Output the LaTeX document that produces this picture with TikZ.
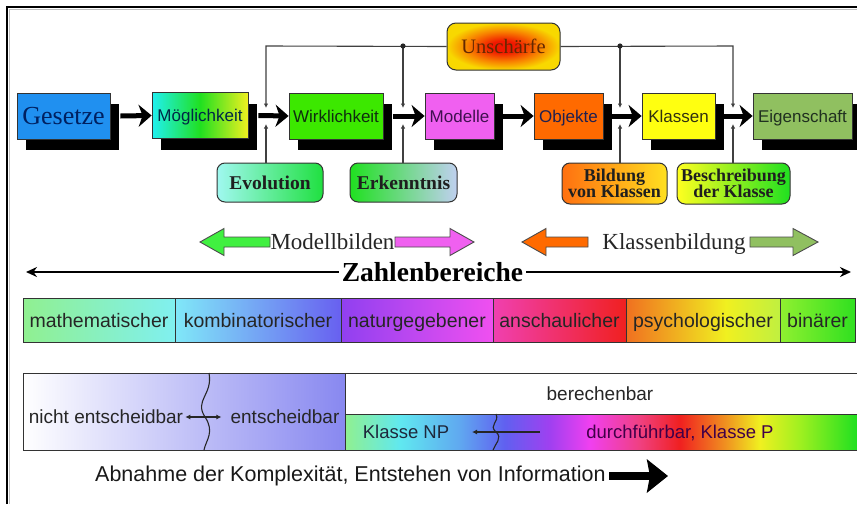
\documentclass[tikz,border=0pt]{standalone}
\usepackage{fontspec}
\setmainfont{Liberation Serif}
\setsansfont{Liberation Sans}
\usetikzlibrary{arrows.meta,shadows}

% box fills
\definecolor{gesetze}{HTML}{2090F0}
\definecolor{gesetzetxt}{HTML}{002060}
\definecolor{wirk}{HTML}{3CE800}
\definecolor{modelle}{HTML}{F060F0}
\definecolor{objekte}{HTML}{FF6A00}
\definecolor{klassen}{HTML}{FFFF10}
\definecolor{eigen}{HTML}{90C060}
\definecolor{moegL}{HTML}{20F0F0}
\definecolor{moegM}{HTML}{20E020}
\definecolor{moegR}{HTML}{F0F020}
% rounded boxes
\definecolor{evoL}{HTML}{A0F8F0}
\definecolor{evoR}{HTML}{20E040}
\definecolor{erkL}{HTML}{20E020}
\definecolor{erkR}{HTML}{C0D0F0}
\definecolor{bilL}{HTML}{FF7010}
\definecolor{bilR}{HTML}{FFE020}
\definecolor{besL}{HTML}{FFFF20}
\definecolor{besR}{HTML}{20E020}
\definecolor{uR}{HTML}{F01800}
\definecolor{uO}{HTML}{F88000}
\definecolor{uY}{HTML}{F8D800}
% block arrows
\definecolor{arrG}{HTML}{40F040}
\definecolor{arrP}{HTML}{F060F0}
\definecolor{arrO}{HTML}{FF6A00}
\definecolor{arrV}{HTML}{90C060}
% number range bar
\definecolor{c1L}{HTML}{90F090}\definecolor{c1R}{HTML}{80F0F0}
\definecolor{c2L}{HTML}{80E8F8}\definecolor{c2R}{HTML}{6860F0}
\definecolor{c3L}{HTML}{9040F0}\definecolor{c3R}{HTML}{F050F0}
\definecolor{c4L}{HTML}{F040B0}\definecolor{c4R}{HTML}{F02020}
\definecolor{c5L}{HTML}{F07020}\definecolor{c5M}{HTML}{F0F020}\definecolor{c5R}{HTML}{C0F040}
\definecolor{c6L}{HTML}{90F030}\definecolor{c6R}{HTML}{30E020}
\definecolor{panelR}{HTML}{8888F0}
% strip
\definecolor{sA}{HTML}{90F090}
\definecolor{sB}{HTML}{60E8F0}
\definecolor{sC}{HTML}{60A8F0}
\definecolor{sD}{HTML}{6060F0}
\definecolor{sE}{HTML}{A040F0}
\definecolor{sF}{HTML}{F040F0}
\definecolor{sG}{HTML}{F04080}
\definecolor{sH}{HTML}{F02020}
\definecolor{sI}{HTML}{F09020}
\definecolor{sJ}{HTML}{F0F020}
\definecolor{sK}{HTML}{A0F020}
\definecolor{sL}{HTML}{20E020}

\pgfdeclarehorizontalshading{stripshade}{100bp}{color(0bp)=(sA); color(25bp)=(sA);
  color(30.4bp)=(sB); color(36.2bp)=(sC); color(40.6bp)=(sD); color(45bp)=(sE);
  color(48.9bp)=(sF); color(53.8bp)=(sG); color(57.7bp)=(sH); color(62.1bp)=(sI);
  color(65.5bp)=(sJ); color(69.4bp)=(sK); color(75bp)=(sL); color(100bp)=(sL)}
\pgfdeclarehorizontalshading{psychshade}{100bp}{color(0bp)=(c5L); color(25bp)=(c5L);
  color(57.5bp)=(c5M); color(75bp)=(c5R); color(100bp)=(c5R)}
\pgfdeclareradialshading{unschshade}{\pgfpoint{0bp}{0bp}}{color(0bp)=(uR); color(6bp)=(uR);
  color(16bp)=(uO); color(25bp)=(uY); color(50bp)=(uY)}

\begin{document}
\begin{tikzpicture}[x=1pt,y=-1pt,
  topbox/.style={draw=black!80, line width=0.8pt, minimum height=46pt, inner sep=0pt,
     font=\sffamily\fontsize{17}{20}\selectfont, text height=12.2pt, text depth=0pt,
     drop shadow={shadow xshift=9pt, shadow yshift=-11pt, fill=black, opacity=1}},
  mainarr/.style={line width=5pt, -{Stealth[length=13pt,width=22pt,inset=4pt]}},
  fb/.style={draw=black!75, line width=1.1pt},
  fbtip/.style={fb, -{Latex[length=4.5pt,width=4.5pt]}},
  rbox/.style={draw=black!80, line width=1pt, rounded corners=8pt, inner sep=0pt,
     align=center, text=black!88, font=\bfseries\fontsize{19.5}{16}\selectfont},
  blk/.style={draw=black!70, line width=0.9pt},
  lbl/.style={font=\fontsize{23}{26}\selectfont, text=black!85, inner sep=1pt, anchor=base},
  cell/.style={draw=black!80, line width=0.8pt, minimum height=44pt, inner sep=0pt,
     font=\sffamily\fontsize{19.5}{22}\selectfont, text=black!85, text height=14pt, text depth=0pt},
  btxt/.style={font=\sffamily\fontsize{19}{22}\selectfont, text=black!85, anchor=base, inner sep=2pt},
  zarr/.style={line width=1.8pt, -{Stealth[length=11pt,width=10pt]}},
  bigarr/.style={line width=8pt, -{Stealth[length=21pt,width=33pt,inset=3pt]}},
]
\useasboundingbox (0,0) rectangle (857,504);
\fill[white] (0,0) rectangle (857,504);

% frame
\draw[black!25, line width=1pt] (9.5,504) -- (9.5,9.5) -- (857,9.5);
\draw[line width=1.6pt] (7,504) -- (7,7) -- (857,7);

% ---- main chain ----
\node[topbox, fill=gesetze, minimum width=93pt, text=gesetzetxt,
      font=\rmfamily\fontsize{26}{28}\selectfont, text height=17.2pt] (g) at (63.5,116) {Gesetze};
\node[topbox, left color=moegL, right color=moegR, middle color=moegM,
      minimum width=96pt, text={rgb,255:red,0;green,40;blue,70}] (m) at (200,115.5) {Möglichkeit};
\node[topbox, fill=wirk, minimum width=94pt, text={rgb,255:red,15;green,45;blue,15}] (w) at (336,116) {Wirklichkeit};
\node[topbox, fill=modelle, minimum width=69pt, text={rgb,255:red,64;green,16;blue,80}] (mo) at (459.5,116) {Modelle};
\node[topbox, fill=objekte, minimum width=69pt, text={rgb,255:red,32;green,32;blue,80}] (o) at (568.5,116) {Objekte};
\node[topbox, fill=klassen, minimum width=73pt, text={rgb,255:red,48;green,48;blue,16}] (k) at (678.5,116) {Klassen};
\node[topbox, fill=eigen, minimum width=99pt, text={rgb,255:red,32;green,48;blue,32}] (e) at (802.5,116) {Eigenschaft};

\draw[mainarr] ([xshift=10pt]g.east) -- (m.west);
\draw[mainarr] ([xshift=10pt]m.east) -- (w.west);
\draw[mainarr] ([xshift=10pt]w.east) -- (mo.west);
\draw[mainarr] ([xshift=8pt]mo.east) -- (o.west);
\draw[mainarr] ([xshift=9pt]o.east) -- (k.west);
\draw[mainarr] ([xshift=8pt]k.east) -- (e.west);

% ---- Unschärfe feedback ----
\node[draw=black!80, line width=1pt, rounded corners=9pt, shading=unschshade,
      minimum width=113pt, minimum height=47pt, inner sep=0pt,
      font=\fontsize{20.5}{22}\selectfont, text={rgb,255:red,100;green,40;blue,0}] (u) at (503.5,46.5) {Unschärfe};

\coordinate (j1) at (266,46);
\coordinate (j2) at (403,46);
\coordinate (j3) at (620,46);
\coordinate (j4) at (733,46);
\coordinate (t1) at (266,108); \coordinate (b1) at (266,124);
\coordinate (t2) at (403,108); \coordinate (b2) at (403,124);
\coordinate (t3) at (620,108); \coordinate (b3) at (620,124);
\coordinate (t4) at (733,108); \coordinate (b4) at (733,124);

\draw[fbtip] (u.west) -- (j1) -- (t1);
\draw[fbtip] (j2) -- (t2);
\draw[fbtip] (j3) -- (t3);
\draw[fbtip] (u.east) -- (j4) -- (t4);
\fill[black!85] (j2) circle (2.6);
\fill[black!85] (j3) circle (2.6);

% ---- influences from below ----
\node[rbox, left color=evoL, right color=evoR, minimum width=106pt, minimum height=39pt] (ev) at (270,182.5) {Evolution};
\node[rbox, left color=erkL, right color=erkR, minimum width=107pt, minimum height=39pt] (er) at (403.5,182.5) {Erkenntnis};
\node[rbox, left color=bilL, right color=bilR, minimum width=105pt, minimum height=41pt,
      font=\bfseries\fontsize{18}{16.5}\selectfont] (bk) at (614.5,183.5) {Bildung\\von Klassen};
\node[rbox, left color=besL, right color=besR, minimum width=113pt, minimum height=41pt,
      font=\bfseries\fontsize{18}{16.5}\selectfont] (bd) at (733.5,183.5) {Beschreibung\\der Klasse};

\draw[fbtip] (ev.north -| j1) -- (b1);
\draw[fbtip] (er.north -| j2) -- (b2);
\draw[fbtip] (bk.north -| j3) -- (b3);
\draw[fbtip] (bd.north -| j4) -- (b4);

% ---- Modellbilden / Klassenbildung ----
\node[lbl] (mb) at (332.5,249) {Modellbilden};
\node[lbl] (kb) at (674,249) {Klassenbildung};
% green, pointing left
\filldraw[blk, fill=arrG] (270,237) -- (224,237) -- (224,228.5) -- (200,242) -- (224,255.5) -- (224,247) -- (270,247) -- cycle;
% pink, pointing right
\filldraw[blk, fill=arrP] (395,237) -- (450,237) -- (450,228.5) -- (474,242) -- (450,255.5) -- (450,247) -- (395,247) -- cycle;
% orange, pointing left
\filldraw[blk, fill=arrO] (588,237) -- (546,237) -- (546,228.5) -- (522,242) -- (546,255.5) -- (546,247) -- (588,247) -- cycle;
% olive, pointing right
\filldraw[blk, fill=arrV] (750,237) -- (793,237) -- (793,228.5) -- (818,242) -- (793,255.5) -- (793,247) -- (750,247) -- cycle;

% ---- Zahlenbereiche ----
\node[font=\bfseries\fontsize{27.5}{30}\selectfont, anchor=base, inner sep=3pt] (zb) at (432.5,281) {Zahlenbereiche};
\coordinate (zl) at (26,272);
\coordinate (zr) at (851,272);
\draw[zarr] (zb.west |- zl) -- (zl);
\draw[zarr] (zb.east |- zr) -- (zr);

\node[cell, left color=c1L, right color=c1R, minimum width=152pt] (c1) at (99,320) {mathematischer};
\node[cell, left color=c2L, right color=c2R, minimum width=166pt] (c2) at (258,320) {kombinatorischer};
\node[cell, left color=c3L, right color=c3R, minimum width=152pt] (c3) at (417,320) {naturgegebener};
\node[cell, left color=c4L, right color=c4R, minimum width=133pt] (c4) at (559.5,320) {anschaulicher};
\node[cell, shading=psychshade, minimum width=154pt] (c5) at (703,320) {psychologischer};
\node[cell, left color=c6L, right color=c6R, minimum width=75pt] (c6) at (817.5,320) {binärer};

% ---- decidability panel ----
\node[left color=white, right color=panelR, minimum width=322pt, minimum height=77pt, inner sep=0pt] (pl) at (184,411.5) {};
\node[shading=stripshade, minimum width=512pt, minimum height=36pt, inner sep=0pt] (st) at (601,432) {};
\draw[line width=1pt, black!80] (857,373) -- (23,373) -- (23,450) -- (857,450);
\draw[line width=1pt, black!80] (345,373) -- (345,450);
\draw[line width=1pt, black!80] (345,414) -- (857,414);

\node[btxt] (ne) at (106,423) {nicht entscheidbar};
\node[btxt] (en) at (285,423) {entscheidbar};
\draw[line width=1.1pt, black!85, {Latex[length=5pt,width=5pt]}-{Latex[length=5pt,width=5pt]}]
  (ne.east |- 0,417) -- ([xshift=-7pt]en.west |- 0,417);
\draw[line width=1.1pt, black!85] (209,373) .. controls (213,395) and (194,400) .. (205,417)
  .. controls (215,432) and (206,440) .. (204,450);

\node[btxt] (be) at (600,400) {berechenbar};
\node[btxt, font=\sffamily\fontsize{18.5}{22}\selectfont, text={rgb,255:red,30;green,40;blue,60}] (np) at (406,438) {Klasse NP};
\node[btxt, font=\sffamily\fontsize{18.5}{22}\selectfont, text={rgb,255:red,64;green,0;blue,72}] (dk) at (680,438) {durchführbar, Klasse P};
\coordinate (nps) at (540,432);
\coordinate (npe) at (472,432);
\draw[line width=1.1pt, black!85, -{Latex[length=5pt,width=5pt]}] (nps) -- (npe);
\draw[line width=1.1pt, black!85] (496,414) .. controls (500,422) and (488,425) .. (496,432)
  .. controls (503,438) and (495,444) .. (493,450);

% ---- bottom caption ----
\node[anchor=base west, inner sep=0pt, font=\sffamily\fontsize{21.5}{24}\selectfont, text=black!90] (ab) at (95,481) {Abnahme der Komplexität, Entstehen von Information};
\coordinate (abs) at (609,476);
\coordinate (abt) at (668,476);
\draw[bigarr] (abs) -- (abt);
\end{tikzpicture}
\end{document}
